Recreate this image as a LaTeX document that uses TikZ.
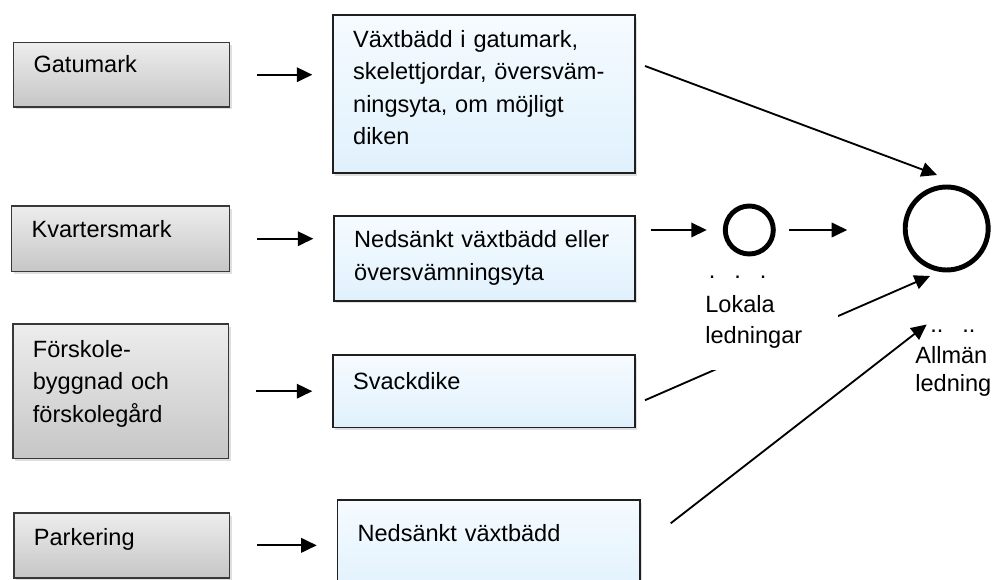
\documentclass[tikz,border=0pt]{standalone}
\usepackage{fontspec}
\setmainfont{Liberation Sans}
\usepackage{xcolor}
\usepackage{tikz}
\usetikzlibrary{shapes,shadows,arrows.meta,calc,positioning}

\definecolor{areaTop}{HTML}{EDEDED}
\definecolor{areaBottom}{HTML}{C6C6C6}
\definecolor{measureTop}{HTML}{F6FBFF}
\definecolor{measureBottom}{HTML}{E0F1FC}

\begin{document}
\begin{tikzpicture}[x=0.02cm, y=-0.02cm,
        every node/.style={font=\fontsize{13.4}{18.4}\selectfont},
        area/.style={draw=black!78, line width=1pt,
            top color=areaTop, bottom color=areaBottom,
            drop shadow={opacity=0.25, shadow xshift=1.2pt, shadow yshift=-1.5pt},
            anchor=north west, align=left, inner xsep=0.4cm, inner ysep=0pt},
        measure/.style={area, draw=black!88, top color=measureTop, bottom color=measureBottom},
        pipe/.style={circle, draw, line width=2.8pt, inner sep=0pt, outer sep=0pt},
        arr/.style={-{Triangle[length=0.31cm, width=0.29cm]}, line width=1.05pt},
        feed/.style={arr, shorten <=0.54cm, shorten >=0.4cm},
        lbl/.style={anchor=base west, align=left, inner sep=0pt}]

        \useasboundingbox (0,0) rectangle (994,580);

        % Areas
        \node[area, text width=3.52cm, text height=0.6cm, text depth=0.686cm] (gatumark) at (12.7,41.7) {Gatumark};
        \node[area, text width=3.56cm, text height=0.64cm, text depth=0.674cm] (kvartersmark) at (10.7,205) {Kvartersmark};
        \node[area, text width=3.514cm, text height=0.674cm, text depth=2.02cm] (forskola) at (12,323) {Förskole-\\byggnad och\\förskolegård};
        \node[area, text width=3.514cm, text height=0.66cm, text depth=0.64cm] (parkering) at (13,512) {Parkering};

        % Measures
        \node[measure, text width=5.24cm, text height=0.654cm, text depth=2.512cm] (vaxtbadd) at (332.3,14) {Växtbädd i gatumark,\\skelettjordar, översväm-\\ningsyta, om möjligt\\diken};
        \node[measure, text width=5.22cm, text height=0.64cm, text depth=1.06cm] (nedsankt) at (333.3,215) {Nedsänkt växtbädd eller\\översvämningsyta};
        \node[measure, text width=5.24cm, text height=0.7cm, text depth=0.754cm] (svackdike) at (332.3,354) {Svackdike};
        \node[measure, text width=5.246cm, text height=0.82cm, text depth=1.08cm] (vaxtbaddParkering) at (336.7,499.3) {Nedsänkt växtbädd};

        % Pipes
        \node[pipe, minimum size=0.96cm] (lokal) at (749.3,230) {};
        \node[pipe, minimum size=1.66cm] (allman) at (946.7,228.5) {};

        % Areas to measures
        \draw[feed] (gatumark.east) -- (gatumark.east -| vaxtbadd.west);
        \draw[feed] (kvartersmark.east) -- (kvartersmark.east -| nedsankt.west);
        \draw[feed] (forskola.east) -- (forskola.east -| svackdike.west);
        \draw[feed] (parkering.east) -- (parkering.east -| vaxtbaddParkering.west);

        % Measures to pipes
        \draw[arr, shorten <=0.29cm, shorten >=0.37cm] (lokal -| nedsankt.east) -- (lokal.west);
        \draw[arr, shorten <=0.32cm, shorten >=1.16cm] (lokal.east) -- (lokal.east -| allman.west);
        \draw[arr] ($(vaxtbadd.north east)+(9,52)$) -- ($(allman)+(-9.7,-53.5)$);
        \draw[arr] ($(svackdike.east)+(9,9)$) -- ($(allman)+(-16.7,47.5)$);
        \draw[arr] ($(vaxtbaddParkering.north east)+(30,24)$) -- ($(allman)+(-20,96)$);

        % Pipe labels
        \node[lbl, fill=white, text width=2.66cm, text height=0.3cm, text depth=1.83cm] (lokalText) at (705,278.5)
            {\hspace*{0.07cm}.\hspace{0.38cm}.\hspace{0.38cm}.\\[0.8pt]Lokala\\[-0.8pt]ledningar};
        \node[lbl, text width=1.6cm] (allmanText) at (915,333)
            {\hspace*{0.3cm}..\hspace{0.38cm}..\\[-1.15pt]Allmän\\[-2.6pt]ledning};

\end{tikzpicture}
\end{document}
